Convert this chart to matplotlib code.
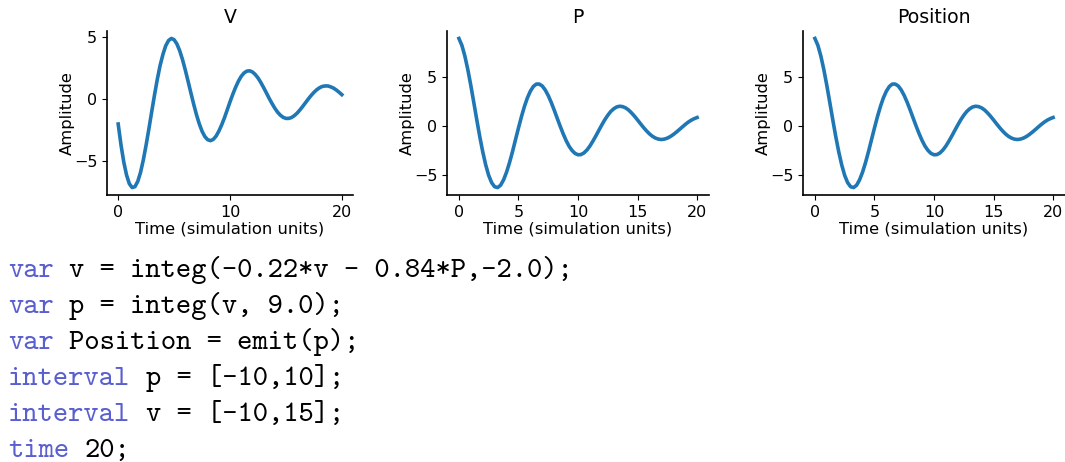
import matplotlib
matplotlib.use("Agg")
import matplotlib.pyplot as plt
from matplotlib.transforms import offset_copy

# =====================================
# Data
# =====================================

time = [0, 0.25, 0.5, 0.75, 1, 1.25, 1.5, 1.75, 2, 2.25, 2.5, 2.75, 3, 3.25, 3.5,
        3.75, 4, 4.25, 4.5, 4.75, 5, 5.25, 5.5, 5.75, 6, 6.25, 6.5, 6.75, 7, 7.25,
        7.5, 7.75, 8, 8.25, 8.5, 8.75, 9, 9.25, 9.5, 9.75, 10, 10.25, 10.5, 10.75,
        11, 11.25, 11.5, 11.75, 12, 12.25, 12.5, 12.75, 13, 13.25, 13.5, 13.75, 14,
        14.25, 14.5, 14.75, 15, 15.25, 15.5, 15.75, 16, 16.25, 16.5, 16.75, 17,
        17.25, 17.5, 17.75, 18, 18.25, 18.5, 18.75, 19, 19.25, 19.5, 19.75, 20]

v_vals = [-2.00, -3.67, -5.06, -6.11, -6.81, -7.11, -7.04, -6.62, -5.89, -4.88,
          -3.68, -2.37, -1.00, 0.34, 1.60, 2.71, 3.59, 4.29, 4.71, 4.88, 4.78,
          4.44, 3.90, 3.19, 2.35, 1.44, 0.51, -0.40, -1.25, -1.98, -2.58, -3.01,
          -3.26, -3.34, -3.24, -2.98, -2.58, -2.08, -1.51, -0.87, -0.22, 0.39,
          0.95, 1.44, 1.83, 2.10, 2.25, 2.28, 2.19, 1.99, 1.71, 1.35, 0.94, 0.51,
          0.07, -0.34, -0.72, -1.04, -1.29, -1.46, -1.55, -1.55, -1.48, -1.33,
          -1.13, -0.87, -0.59, -0.29, 0.01, 0.29, 0.54, 0.75, 0.91, 1.02, 1.06,
          1.06, 0.99, 0.89, 0.74, 0.56, 0.36]

p_vals = [9.00, 8.29, 7.19, 5.79, 4.17, 2.42, 0.64, -1.08, -2.65, -4.00, -5.08,
          -5.83, -6.25, -6.33, -6.09, -5.54, -4.75, -3.76, -2.64, -1.42, -0.21,
          0.95, 2.00, 2.89, 3.58, 4.06, 4.31, 4.31, 4.11, 3.70, 3.13, 2.43, 1.64,
          0.81, -0.01, -0.79, -1.49, -2.08, -2.52, -2.82, -2.96, -2.94, -2.77,
          -2.47, -2.06, -1.56, -1.02, -0.45, 0.11, 0.64, 1.10, 1.49, 1.77, 1.96,
          2.03, 1.99, 1.86, 1.64, 1.34, 1.00, 0.62, 0.23, -0.15, -0.50, -0.81,
          -1.06, -1.24, -1.35, -1.39, -1.35, -1.25, -1.09, -0.88, -0.64, -0.38,
          -0.11, 0.15, 0.39, 0.59, 0.75, 0.87]

# Position = emit(p), so it shows the same values as P
position_vals = p_vals

titles = ["V", "P", "Position"]

code_lines = [
    ("var", "v = integ(-0.22*v - 0.84*P,-2.0);"),
    ("var", "p = integ(v, 9.0);"),
    ("var", "Position = emit(p);"),
    ("interval", "p = [-10,10];"),
    ("interval", "v = [-10,15];"),
    ("time", "20;"),
]

# =====================================
# Figure
# =====================================

fig = plt.figure(figsize=(10.65, 4.62), dpi=100)

W, H = 1065, 462
boxes = [(107, 246), (447, 262), (803, 262)]
series = [v_vals, p_vals, position_vals]

for (left, width), yy, title in zip(boxes, series, titles):
    ax = fig.add_axes([left / W, 1 - 195 / H, width / W, (195 - 31) / H])
    ax.plot(time, yy, color="#1f77b4", linewidth=2.6)
    ax.set_title(title, fontsize=13.6)
    ax.set_xlabel("Time (simulation units)", fontsize=11.8, labelpad=1)
    ax.set_ylabel("Amplitude", fontsize=11.8, labelpad=-1)
    ax.set_yticks([-5, 0, 5])
    if title == "V":
        ax.set_xticks([0, 10, 20])
    else:
        ax.set_xticks([0, 5, 10, 15, 20])
    ax.tick_params(labelsize=11.5)
    ax.spines["top"].set_visible(False)
    ax.spines["right"].set_visible(False)
    ax.spines["left"].set_linewidth(1.2)
    ax.spines["bottom"].set_linewidth(1.2)

# =====================================
# Code text (monospace, keyword in colour)
# =====================================

kw_color = "#5a5fd0"
code_size = 21
char_w = 0.525 * code_size  # cmtt10 advance, in points

for i, (kw, rest) in enumerate(code_lines):
    y = 1 - (277 + 36 * i) / H
    fig.text(8 / W, y, kw, fontsize=code_size, family="cmtt10",
             color=kw_color, va="baseline", ha="left")
    shifted = offset_copy(fig.transFigure, fig=fig,
                          x=(len(kw) + 1) * char_w, y=0, units="points")
    fig.text(8 / W, y, rest, fontsize=code_size, family="cmtt10",
             color="black", va="baseline", ha="left", transform=shifted)

fig.savefig("out.png", dpi=100)
